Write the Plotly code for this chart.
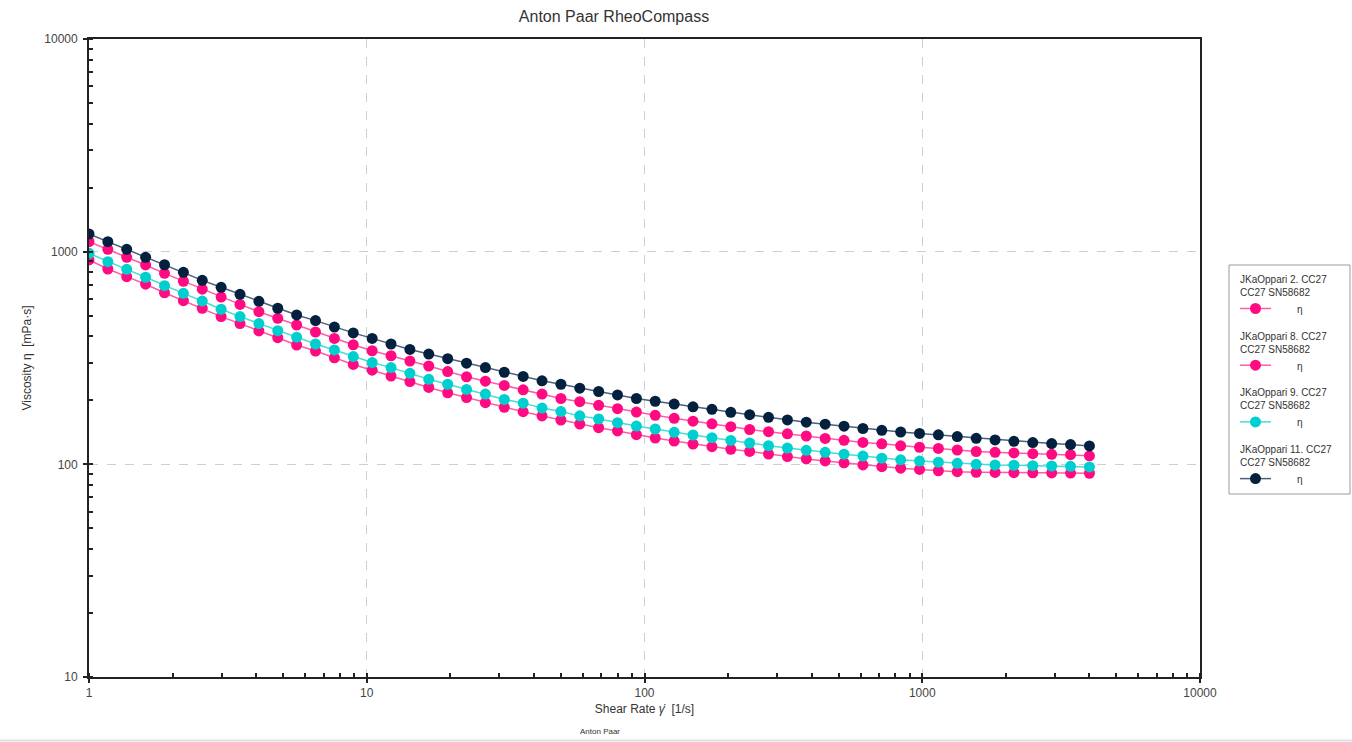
import plotly.graph_objects as go

# ---------------- data ----------------
shear_rate = [1.000, 1.169, 1.367, 1.599, 1.870, 2.187, 2.557, 2.990, 3.497, 4.089,
              4.782, 5.592, 6.539, 7.647, 8.942, 10.46, 12.23, 14.30, 16.72, 19.56,
              22.87, 26.74, 31.27, 36.57, 42.76, 50.00, 58.47, 68.38, 79.96, 93.51,
              109.3, 127.9, 149.5, 174.9, 204.5, 239.1, 279.6, 327.0, 382.4, 447.2,
              522.9, 611.5, 715.1, 836.3, 977.8, 1143, 1337, 1564, 1829, 2138,
              2500, 2924, 3419, 3999]

eta_2 = [1114, 1026, 941, 866, 791, 726, 666, 612, 565, 522,
         486, 452, 419, 391, 365, 342, 324, 306, 290, 273,
         258, 246, 235, 224, 214, 204, 197, 189.5, 182.6, 176.2,
         170.0, 164.5, 159.5, 155.0, 150.3, 145.8, 142.4, 139.2, 135.9, 132.3,
         129.7, 126.8, 124.8, 122.2, 120.3, 118.8, 116.8, 114.9, 113.9, 113.1,
         112.2, 111.5, 111.0, 109.6]

eta_8 = [914, 829, 763, 703, 641, 588, 542, 495, 459, 424,
         394, 364, 341, 317, 295, 277, 260, 245, 230, 217,
         206, 195, 185.4, 176.8, 168.8, 161.6, 154.7, 148.7, 143.5, 137.9,
         133.0, 128.7, 124.6, 121.0, 117.7, 115.0, 111.8, 108.8, 106.0, 103.7,
         101.6, 99.4, 97.5, 95.9, 94.6, 93.3, 92.3, 91.8, 91.6, 91.4,
         91.3, 91.1, 91.0, 90.8]

eta_9 = [982, 897, 826, 758, 692, 637, 586, 536, 495, 459,
         425, 396, 368, 345, 321, 301, 285, 268, 251, 238,
         225, 214, 202, 194, 184, 177, 169, 163.4, 157.0, 151.4,
         146.6, 141.5, 137.4, 133.5, 129.5, 126.0, 122.4, 119.2, 116.4, 113.9,
         111.6, 109.3, 106.9, 105.0, 103.6, 102.4, 101.1, 100.0, 99.3, 99.0,
         98.5, 98.2, 97.9, 97.2]

eta_11 = [1211, 1114, 1026, 941, 868, 800, 733, 680, 630, 584,
          542, 504, 474, 442, 415, 391, 368, 347, 330, 314,
          299, 285, 271, 259, 247, 238, 228, 220, 212, 204,
          198, 192, 186.5, 181.5, 175.7, 171.2, 166.4, 161.8, 157.8, 154.5,
          151.2, 147.4, 144.6, 141.9, 139.8, 137.6, 135.0, 132.6, 130.3, 128.3,
          126.6, 125.2, 123.9, 122.0]

series_names = ["JKaOppari 2. CC27<br>CC27 SN58682",
                "JKaOppari 8. CC27<br>CC27 SN58682",
                "JKaOppari 9. CC27<br>CC27 SN58682",
                "JKaOppari 11. CC27<br>CC27 SN58682"]
series_values = [eta_2, eta_8, eta_9, eta_11]
marker_colors = ["#ff0a80", "#ff0a80", "#00cfcf", "#03213f"]
line_colors = ["#ff5aa8", "#ff5aa8", "#45dcdc", "#4b6079"]

x_tick_vals = [1, 10, 100, 1000, 10000]
x_tick_text = ["1", "10", "100", "1000", "10000"]
y_tick_vals = [10, 100, 1000, 10000]
y_tick_text = ["10", "100", "1000", "10000"]

title_text = "Anton Paar RheoCompass"
x_title = "Shear Rate <i>γ̇</i>  [1/s]"
y_title = "Viscosity η  [mPa·s]"
footer_text = "Anton Paar"

# ---------------- layout geometry ----------------
W, H = 1352, 742
L, R, T, B = 89, 1200, 39, 677
FONT = "Arial, Liberation Sans, sans-serif"


def px_x(p):
    return (p - L) / (R - L)


def px_y(p):
    return (B - p) / (B - T)


fig = go.Figure()
for name, vals, mc, lc in zip(series_names, series_values, marker_colors, line_colors):
    fig.add_trace(go.Scatter(
        x=shear_rate, y=vals, mode="lines+markers", name=name,
        line=dict(color=lc, width=1.5),
        marker=dict(color=mc, size=11, line=dict(width=0)),
        showlegend=False,
    ))

minor_vals = [m * 10 ** e for e in range(0, 4) for m in range(1, 10)] + [10000]
minor_vals_y = [m * 10 ** e for e in range(1, 4) for m in range(1, 10)] + [10000]

axis_common = dict(
    type="log", showline=True, linecolor="#222", linewidth=1.8, mirror=True,
    ticks="outside", ticklen=4, tickwidth=1.5, tickcolor="#222",
    showgrid=True, gridcolor="#cfcfcf", griddash="dash", gridwidth=1,
    tickfont=dict(family=FONT, size=12, color="#444"),
    zeroline=False,
)

fig.update_xaxes(
    **axis_common, range=[0, 4], tickmode="array",
    tickvals=x_tick_vals, ticktext=x_tick_text,
    minor=dict(ticks="inside", ticklen=4, tickwidth=1.5, tickcolor="#222",
               tickmode="array", tickvals=minor_vals, showgrid=False),
    title=dict(text=x_title, font=dict(family=FONT, size=12, color="#333"), standoff=5),
)
fig.update_yaxes(
    **axis_common, range=[1, 4], tickmode="array",
    tickvals=y_tick_vals, ticktext=y_tick_text, ticklabelstandoff=3,
    minor=dict(ticks="inside", ticklen=4, tickwidth=1.5, tickcolor="#222",
               tickmode="array", tickvals=minor_vals_y, showgrid=False),
    title=dict(text=y_title, font=dict(family=FONT, size=12, color="#333"), standoff=10),
)

shapes = []
annotations = []

# legend box
shapes.append(dict(type="rect", xref="paper", yref="paper",
                   x0=px_x(1229), x1=px_x(1350), y0=px_y(494), y1=px_y(265),
                   line=dict(color="#9a9a9a", width=1), fillcolor="white", layer="above"))

entry_top = 279
entry_step = 56.7
for i, (name, mc, lc) in enumerate(zip(series_names, marker_colors, line_colors)):
    y_text = entry_top + i * entry_step
    annotations.append(dict(
        xref="paper", yref="paper", x=px_x(1238), y=px_y(y_text - 7),
        text=name, showarrow=False, xanchor="left", yanchor="top", align="left",
        font=dict(family=FONT, size=10, color="#333"),
    ))
    y_sym = y_text + 29.5
    shapes.append(dict(type="line", xref="paper", yref="paper",
                       x0=px_x(1240), x1=px_x(1271), y0=px_y(y_sym), y1=px_y(y_sym),
                       line=dict(color=lc, width=1.5), layer="above"))
    shapes.append(dict(type="circle", xref="paper", yref="paper",
                       xsizemode="pixel", ysizemode="pixel",
                       xanchor=px_x(1255.5), yanchor=px_y(y_sym),
                       x0=-5.5, x1=5.5, y0=-5.5, y1=5.5,
                       fillcolor=mc, line=dict(color=mc, width=0), layer="above"))
    annotations.append(dict(
        xref="paper", yref="paper", x=px_x(1300), y=px_y(y_sym + 1),
        text="η", showarrow=False, xanchor="center", yanchor="middle",
        font=dict(family=FONT, size=10, color="#333"),
    ))

# footer
annotations.append(dict(xref="paper", yref="paper", x=px_x(600), y=px_y(731),
                        text=footer_text, showarrow=False, xanchor="center", yanchor="middle",
                        font=dict(family=FONT, size=8, color="#333")))
shapes.append(dict(type="line", xref="paper", yref="paper",
                   x0=px_x(0), x1=px_x(W), y0=px_y(740.5), y1=px_y(740.5),
                   line=dict(color="#e0e0e0", width=2)))

fig.update_layout(
    width=W, height=H,
    margin=dict(l=L, r=W - R, t=T, b=H - B, pad=0),
    paper_bgcolor="white", plot_bgcolor="white",
    title=dict(text=title_text, x=614 / W, xanchor="center", y=1 - 16 / H, yanchor="middle",
               font=dict(family=FONT, size=16, color="#333")),
    showlegend=False,
    shapes=shapes, annotations=annotations,
    font=dict(family=FONT),
)

fig.write_html("out.html", config={"displayModeBar": False},
               post_script="document.body.style.margin='0';")
